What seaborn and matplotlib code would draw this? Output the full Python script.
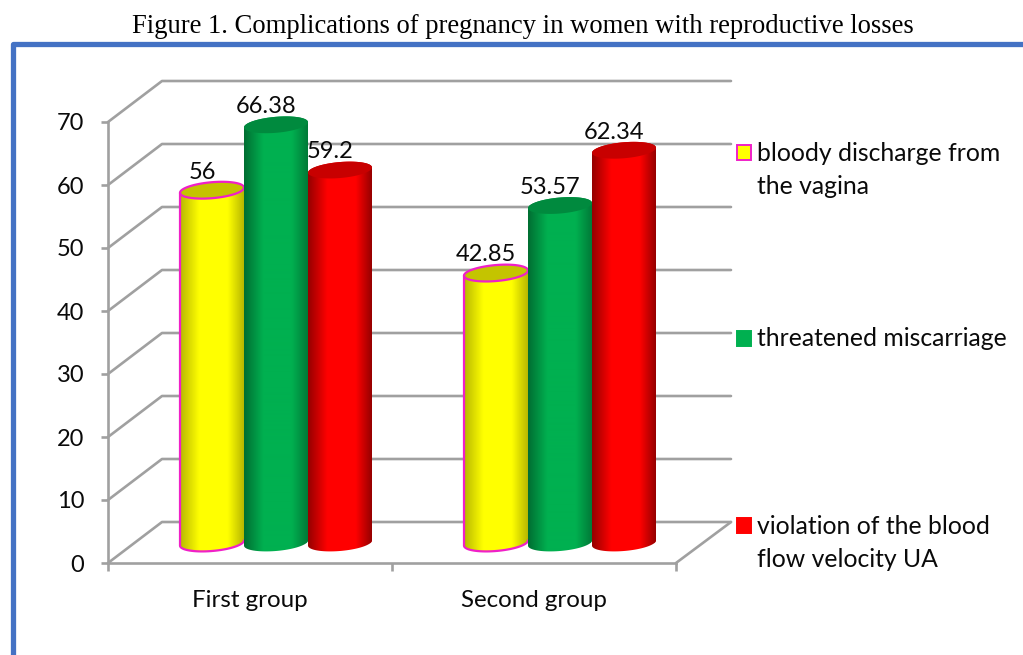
import numpy as np
import pandas as pd
import matplotlib
matplotlib.use('Agg')
import matplotlib.pyplot as plt
import seaborn as sns
from matplotlib.colors import LinearSegmentedColormap
from matplotlib.patches import PathPatch, Rectangle
from matplotlib.path import Path

# data
groups = ['First group', 'Second group']
series = ['bloody discharge from\nthe vagina', 'threatened miscarriage',
          'violation of the blood\nflow velocity UA']
bloody = [56, 42.85]
threatened = [66.38, 53.57]
violation = [59.2, 62.34]
value_labels = [['56', '42.85'], ['66.38', '53.57'], ['59.2', '62.34']]
y_ticks = [0, 10, 20, 30, 40, 50, 60, 70]
title = 'Figure 1. Complications of pregnancy in women with reproductive losses'

colors = ['#ffff00', '#00b050', '#ff0000']
cap_colors = ['#c4c400', '#008a3e', '#c80000']
dark_left = ['#b8b800', '#006e32', '#960000']
dark_right = ['#b8b800', '#007a38', '#960000']
edge_colors = ['#f020c8', None, None]
legend_y = [152, 338, 525]

W, H = 1023, 655
GREY = '#a0a0a0'
FONT = 'Lato'
TEXT = '#0a0a0a'
PX_V = 6.3  # pixels per unit of value


def box(left, right, top, bottom):
    return [left / W, 1 - bottom / H, (right - left) / W, (bottom - top) / H]


sns.set_theme(style='white')
fig = plt.figure(figsize=(W / 100, H / 100), dpi=100)

# page furniture in pixel coordinates
page = fig.add_axes([0, 0, 1, 1], zorder=0)
page.set_xlim(0, W)
page.set_ylim(H, 0)
page.axis('off')
page.plot([12.5, 12.5, W], [H, 43.5, 43.5], color='#4472c4', lw=3.8,
          solid_joinstyle='round', solid_capstyle='butt')
page.text(523, 26.5, title, family='Liberation Serif', fontsize=19.2,
          ha='center', va='center', color='black')

# back wall and side wall of the 3D box
for v in y_ticks:
    y = 563 - v * PX_V
    page.plot([108, 162, 731], [y, y - 41, y - 41], color=GREY, lw=1.9)
page.plot([676, 731], [563, 522], color=GREY, lw=1.9)

# legend
for i, label in enumerate(series):
    page.add_patch(Rectangle((736.5, legend_y[i] - 7.5), 14, 15, facecolor=colors[i],
                             edgecolor=edge_colors[i] or colors[i], lw=1.4))
    lines = label.count('\n')
    page.text(757, legend_y[i] + lines * 17.5 + 0.5, label, family=FONT, fontsize=17.8,
              ha='left', va='center', linespacing=1.5, color=TEXT)

# front axes: ticks and group labels
ax = fig.add_axes(box(108, 676, 122, 563), zorder=1)
ax.patch.set_alpha(0)
ax.set_xlim(0, 2)
ax.set_ylim(0, 70)
ax.set_yticks(y_ticks)
ax.set_xticks([0, 1, 2])
ax.set_xticklabels([])
ax.set_xticks([0.5, 1.5], minor=True)
ax.set_xticklabels(groups, minor=True, family=FONT, fontsize=17.4, color=TEXT)
ax.tick_params(axis='x', which='major', length=6, width=1.9, color=GREY, bottom=True)
ax.tick_params(axis='x', which='minor', length=0, pad=19.5, bottom=False)
ax.tick_params(axis='y', length=5, width=1.9, color=GREY, left=True, pad=12,
               labelsize=17)
for lab in ax.get_yticklabels():
    lab.set_family(FONT)
    lab.set_color(TEXT)
for side in ['top', 'right']:
    ax.spines[side].set_visible(False)
for side in ['left', 'bottom']:
    ax.spines[side].set_color(GREY)
    ax.spines[side].set_linewidth(1.9)

# bars sit half way into the box, so they get their own shifted axes
df = pd.DataFrame({
    'group': groups * 3,
    'series': [s for s in series for _ in groups],
    'value': bloody + threatened + violation,
})
bar_ax = fig.add_axes(box(134, 702, 543 - 75 * PX_V, 543 + 5 * PX_V), zorder=2)
sns.barplot(data=df, x='group', y='value', hue='series', hue_order=series,
            palette=colors, order=groups, width=0.676, gap=0, saturation=1,
            legend=False, ax=bar_ax)
xlim = bar_ax.get_xlim()

px_x = 568 / (xlim[1] - xlim[0])
b = 8 / PX_V
tilt = (2.6 / PX_V) / (32 / px_x)
order = 0

for gi in range(len(groups)):
    for si, cont in enumerate(bar_ax.containers):
        bar = cont[gi]
        order += 1
        x0, w, v = bar.get_x(), bar.get_width(), bar.get_height()
        xc, a = x0 + w / 2, w / 2

        # lower half of the base, then back along the upper half of the top
        th = np.linspace(np.pi, 2 * np.pi, 40)
        xs = xc + a * np.cos(th)
        low = b * np.sin(th) + tilt * (xs - xc)
        th2 = np.linspace(0, np.pi, 40)
        xs2 = xc + a * np.cos(th2)
        up = v + b * np.sin(th2) + tilt * (xs2 - xc)
        verts = np.r_[np.c_[xs, low], np.c_[xs2, up], [[xs[0], low[0]]]]
        body = PathPatch(Path(verts, closed=True), facecolor='none', edgecolor='none',
                         zorder=order)
        bar_ax.add_patch(body)

        bar.set_zorder(order)
        bar.set_clip_path(body)

        cmap = LinearSegmentedColormap.from_list(
            'cyl', [(0, dark_left[si]), (0.3, colors[si]), (0.75, colors[si]), (1, dark_right[si])])
        bar_ax.imshow(np.linspace(0, 1, 128).reshape(1, -1), extent=[x0, x0 + w, -3, v + 3],
                      aspect='auto', cmap=cmap, zorder=order + 0.1, clip_path=body,
                      interpolation='bilinear')

        th3 = np.linspace(0, 2 * np.pi, 80)
        xs3 = xc + a * np.cos(th3)
        cap = v + b * np.sin(th3) + tilt * (xs3 - xc)
        bar_ax.add_patch(PathPatch(Path(np.c_[xs3, cap], closed=True), facecolor=cap_colors[si],
                                   edgecolor=edge_colors[si] or 'none', lw=1.6,
                                   zorder=order + 0.3))
        if edge_colors[si]:
            outline = np.r_[[[xs2[-1], up[-1]]], np.c_[xs, low]]
            bar_ax.plot(outline[:, 0], outline[:, 1], color=edge_colors[si], lw=1.6,
                        zorder=order + 0.3)

        bar_ax.annotate(value_labels[si][gi], (xc, v), xytext=(-7, 13),
                        textcoords='offset points', ha='center', va='center',
                        family=FONT, fontsize=17, color=TEXT, zorder=20)

bar_ax.set_xlim(xlim)
bar_ax.set_ylim(-5, 75)
bar_ax.axis('off')

fig.savefig('out.png', dpi=100)
